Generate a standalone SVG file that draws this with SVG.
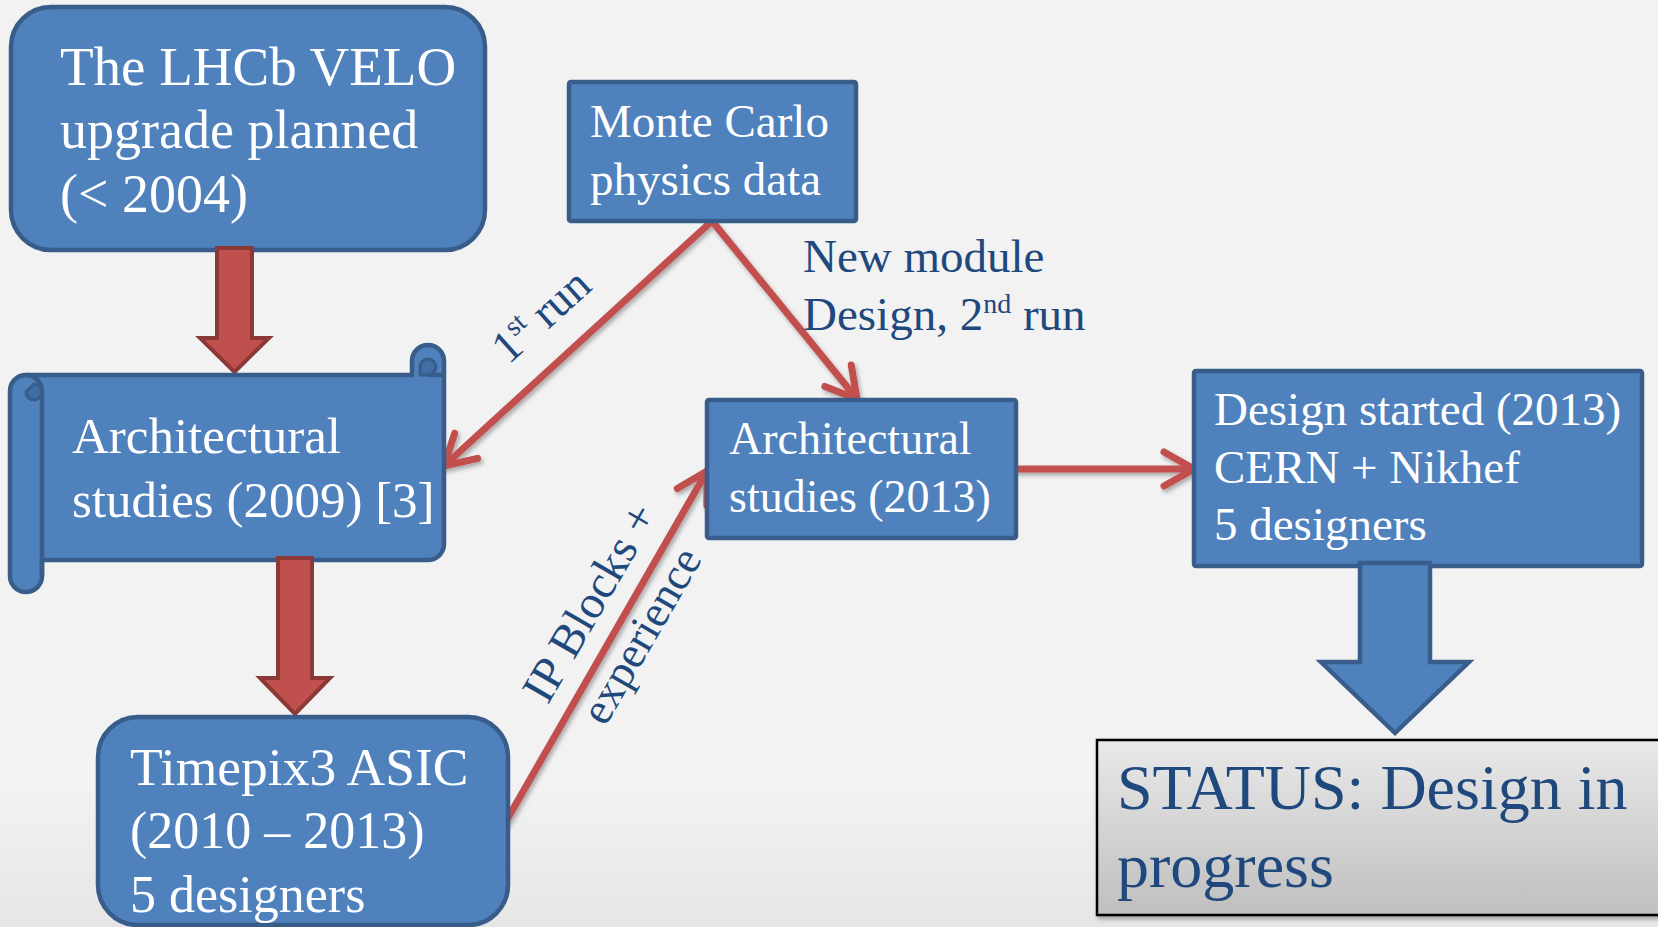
<svg xmlns="http://www.w3.org/2000/svg" width="1658" height="927" viewBox="0 0 1658 927">
<style>
.box{fill:#4f81bd;stroke:#385d8a;stroke-width:4.5}
.dark{fill:#3f6da4;stroke:#385d8a;stroke-width:3}
.blk-red{fill:#c0504d;stroke:#8c3836;stroke-width:4}
.blk-blue{fill:#4f81bd;stroke:#385d8a;stroke-width:4.5}
.conn{fill:none;stroke:#c0504d;stroke-width:7;stroke-linecap:round}
.w{fill:#ffffff;font-family:"Liberation Serif","Times New Roman",serif}
.lbl{fill:#1f497d;font-family:"Liberation Serif","Times New Roman",serif}
</style>
<defs>
<linearGradient id="bg" x1="0" y1="0" x2="0" y2="1">
<stop offset="0" stop-color="#f2f2f2"/>
<stop offset="0.85" stop-color="#f2f2f2"/>
<stop offset="1" stop-color="#e6e6e6"/>
</linearGradient>
<linearGradient id="gray" x1="0" y1="0" x2="0" y2="1">
<stop offset="0" stop-color="#e9e9e9"/>
<stop offset="1" stop-color="#bfbfbf"/>
</linearGradient>
<filter id="sh" x="-10%" y="-10%" width="130%" height="130%">
<feDropShadow dx="2" dy="3" stdDeviation="2" flood-color="#000" flood-opacity="0.3"/>
</filter>
<marker id="chev" viewBox="-36 -22 42 44" refX="0" refY="0" markerWidth="42" markerHeight="44" markerUnits="userSpaceOnUse" orient="auto" overflow="visible">
<path d="M-30,-17 L0,0 L-30,17" fill="none" stroke="#c0504d" stroke-width="7" stroke-linecap="round" stroke-linejoin="round"/>
</marker>
</defs>
<rect x="0" y="0" width="1658" height="927" fill="url(#bg)"/>

<g id="connectors" filter="url(#sh)">
<line class="conn" x1="712" y1="221" x2="444" y2="466" marker-end="url(#chev)"/>
<line class="conn" x1="712" y1="221" x2="857" y2="399" marker-end="url(#chev)"/>
<line class="conn" x1="505" y1="823" x2="707" y2="471" marker-end="url(#chev)"/>
<line class="conn" x1="1016" y1="469" x2="1194" y2="469" marker-end="url(#chev)"/>
</g>

<g id="labels">
<text class="lbl" font-size="47" x="803" y="272">New module</text>
<text class="lbl" font-size="47" x="803" y="330">Design, 2<tspan font-size="28" dy="-17">nd</tspan><tspan dy="17"> run</tspan></text>
<text class="lbl" font-size="46" text-anchor="middle" transform="translate(551,327) rotate(-42)">1<tspan font-size="28" dy="-17">st</tspan><tspan dy="17"> run</tspan></text>
<text class="lbl" font-size="47" text-anchor="middle" transform="translate(603,610) rotate(-60)">IP Blocks +</text>
<text class="lbl" font-size="45" text-anchor="middle" transform="translate(654,643) rotate(-60)">experience</text>
</g>

<g id="node-velo">
<rect class="box" x="11" y="7" width="474" height="243" rx="40"/>
<text class="w" font-size="55" x="60" y="85">The LHCb VELO</text>
<text class="w" font-size="54" x="60" y="148">upgrade planned</text>
<text class="w" font-size="54" x="60" y="212">(&lt; 2004)</text>
</g>

<g id="arrow-red-1">
<path class="blk-red" d="M217,248 L252,248 L252,338 L269,338 L234.5,372 L200,338 L217,338 Z"/>
</g>

<g id="node-arch2009">
<path class="box" d="M10,391 A16,16 0 0 1 26,375 L412,375 L412,361 A16,16 0 0 1 444,361 L444,544 A16,16 0 0 1 428,560 L42,560 L42,576 A16,16 0 0 1 10,576 Z"/>
<path class="dark" d="M34,384 A8,8 0 1 1 34,400 A8,8 0 0 1 26,392 Z"/>
<path d="M42,391 L42,576" fill="none" stroke="#385d8a" stroke-width="4.5"/>
<path d="M26,375 A16,16 0 0 1 42,391" fill="none" stroke="#385d8a" stroke-width="4.5"/>
<path class="dark" d="M420,375 L428,375 A8,8 0 0 0 428,359 A8,8 0 0 0 420,367 Z"/>
<path d="M428,375 L444,375" fill="none" stroke="#385d8a" stroke-width="4.5"/>
<text class="w" font-size="51" x="72" y="453">Architectural</text>
<text class="w" font-size="51" x="72" y="517">studies (2009) [3]</text>
</g>

<g id="arrow-red-2">
<path class="blk-red" d="M278,558 L312,558 L312,678 L330,678 L295,714 L260,678 L278,678 Z"/>
</g>

<g id="node-timepix">
<rect class="box" x="98" y="717" width="410" height="208" rx="40"/>
<text class="w" font-size="53.5" x="130" y="785">Timepix3 ASIC</text>
<text class="w" font-size="52" x="130" y="848">(2010 – 2013)</text>
<text class="w" font-size="52" x="130" y="912">5 designers</text>
</g>

<g id="node-montecarlo">
<rect class="box" x="569" y="82" width="287" height="139" rx="2"/>
<text class="w" font-size="47" x="590" y="137">Monte Carlo</text>
<text class="w" font-size="47" x="590" y="195">physics data</text>
</g>

<g id="node-arch2013">
<rect class="box" x="707" y="400" width="309" height="138" rx="2"/>
<text class="w" font-size="46" x="729" y="454">Architectural</text>
<text class="w" font-size="46" x="729" y="512">studies (2013)</text>
</g>

<g id="node-design">
<rect class="box" x="1194" y="371" width="448" height="195" rx="2"/>
<text class="w" font-size="47" x="1214" y="425">Design started (2013)</text>
<text class="w" font-size="47" x="1214" y="483">CERN + Nikhef</text>
<text class="w" font-size="47" x="1214" y="540">5 designers</text>
</g>

<g id="arrow-blue">
<path class="blk-blue" d="M1360,563 L1430,563 L1430,662 L1469,662 L1395,733 L1321,662 L1360,662 Z"/>
</g>

<g id="node-status">
<rect x="1097" y="740" width="580" height="175" fill="url(#gray)" stroke="#000" stroke-width="2.5" filter="url(#sh)"/>
<text class="lbl" font-size="64" x="1117" y="809">STATUS: Design in</text>
<text class="lbl" font-size="64" x="1117" y="887">progress</text>
</g>
</svg>
